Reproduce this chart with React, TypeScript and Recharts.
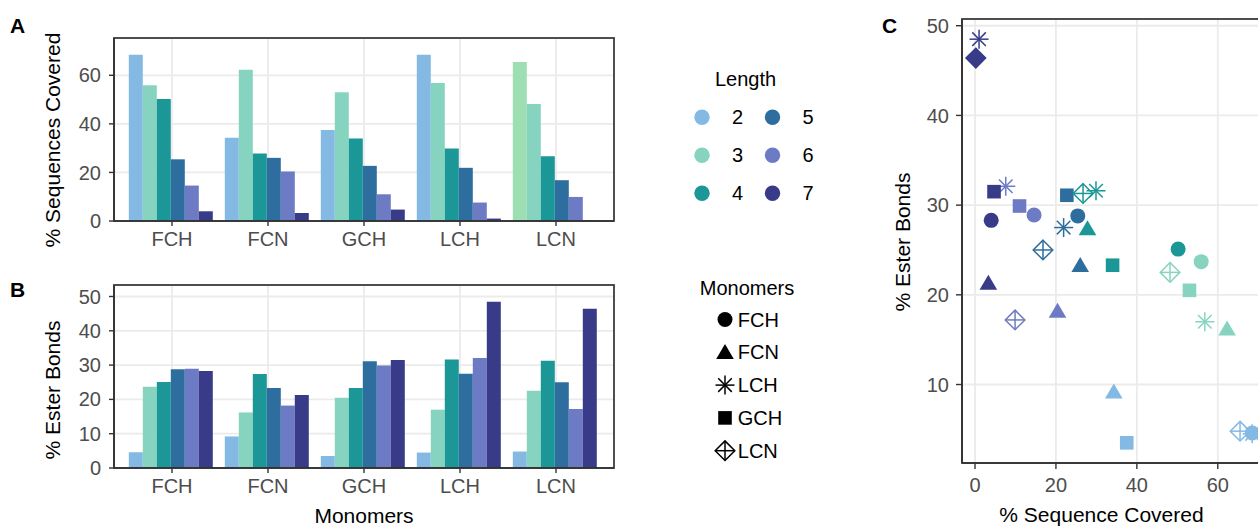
import React from 'react';
import { BarChart, Bar, XAxis, YAxis, CartesianGrid, Cell, ScatterChart, Scatter } from 'recharts';

const FONT = '"Liberation Sans", Arial, Helvetica, sans-serif';

// ---------- data ----------
const monomers = ['FCH', 'FCN', 'GCH', 'LCH', 'LCN'];
const lengths = [2, 3, 4, 5, 6, 7];
const lengthColors = ['#84b9e4', '#86d4c0', '#1b9797', '#2e6e9e', '#6d7bc4', '#383b88'];
const lcnLength2CoverageColor = '#9ddfb3';

// % sequences covered, per length, in monomer order
const coverage2 = [68.5, 34.3, 37.5, 68.5, 65.5];
const coverage3 = [55.9, 62.3, 53.0, 56.8, 48.2];
const coverage4 = [50.2, 27.8, 34.0, 29.9, 26.7];
const coverage5 = [25.4, 26.0, 22.7, 21.9, 16.8];
const coverage6 = [14.6, 20.4, 11.0, 7.6, 9.9];
const coverage7 = [4.0, 3.3, 4.7, 1.0, 0.2];

// % ester bonds, per length, in monomer order
const ester2 = [4.6, 9.2, 3.5, 4.5, 4.8];
const ester3 = [23.7, 16.2, 20.5, 17.0, 22.5];
const ester4 = [25.1, 27.4, 23.3, 31.6, 31.3];
const ester5 = [28.8, 23.3, 31.1, 27.5, 25.0];
const ester6 = [28.9, 18.2, 29.9, 32.1, 17.2];
const ester7 = [28.3, 21.3, 31.5, 48.5, 46.4];

const coverageTicks = [0, 20, 40, 60];
const coverageMinorTicks = [10, 30, 50, 70];
const esterTicks = [0, 10, 20, 30, 40, 50];
const esterMinorTicks = [5, 15, 25, 35, 45];
const scatterXTicks = [0, 20, 40, 60];
const scatterXMinorTicks = [10, 30, 50, 70];
const scatterYTicks = [10, 20, 30, 40, 50];
const scatterYMinorTicks = [5, 15, 25, 35, 45];

const legendMonomers = ['FCH', 'FCN', 'LCH', 'GCH', 'LCN'];
const monomerShapes: Record<string, string> = {
  FCH: 'circle',
  FCN: 'triangle',
  LCH: 'asterisk',
  GCH: 'square',
  LCN: 'diamondPlus',
};

const coverageByLength = [coverage2, coverage3, coverage4, coverage5, coverage6, coverage7];
const esterByLength = [ester2, ester3, ester4, ester5, ester6, ester7];

const buildRows = (byLength: number[][]) =>
  monomers.map((m, i) => {
    const row: any = { monomer: m };
    lengths.forEach((len, j) => {
      row['L' + len] = byLength[j][i];
    });
    return row;
  });

const coverageRows = buildRows(coverageByLength);
const esterRows = buildRows(esterByLength);

const allCoverage = coverageByLength.flat();
const allEster = esterByLength.flat();
const coverageMax = Math.max(...allCoverage) * 1.1;
const esterMax = Math.max(...allEster) * 1.1;

const expand = (vals: number[]): [number, number] => {
  const lo = Math.min(...vals);
  const hi = Math.max(...vals);
  const pad = (hi - lo) * 0.05;
  return [lo - pad, hi + pad];
};
const xDom = expand(allCoverage);
const yDom = expand(allEster);

const scatterSeries = legendMonomers.map((m) => {
  const i = monomers.indexOf(m);
  return {
    monomer: m,
    points: lengths.map((len, j) => ({ x: coverageByLength[j][i], y: esterByLength[j][i], len })),
  };
});

// ---------- layout & styles ----------
const GRID = '#ebebeb';
const AXIS = '#333333';
const TICK_TEXT = '#4d4d4d';
const axisLineStyle = { stroke: AXIS, strokeWidth: 1.7 };
const tickLineStyle = { stroke: AXIS, strokeWidth: 1.4 };
const tickStyle = { fill: TICK_TEXT, fontSize: 20, fontFamily: FONT };

const BAR_LEFT = 114;
const BAR_RIGHT = 614;
const A_TOP = 38;
const A_BOTTOM = 221;
const B_OFFSET = 260;
const B_TOP = 285;
const B_BOTTOM = 468;
const SC_DIV_LEFT = 880;
const SC_LEFT = 962;
const SC_TOP = 19;
const SC_BOTTOM = 463;
const SC_WIDTH = 304;

function Marker({ kind, cx, cy, color, solid }: any) {
  const sw = 1.5;
  if (kind === 'circle') return <circle cx={cx} cy={cy} r={7.5} fill={color} />;
  if (kind === 'triangle')
    return (
      <polygon
        points={`${cx},${cy - 8.3} ${cx + 8.8},${cy + 6.7} ${cx - 8.8},${cy + 6.7}`}
        fill={color}
      />
    );
  if (kind === 'square') return <rect x={cx - 6.8} y={cy - 6.8} width={13.6} height={13.6} fill={color} />;
  if (kind === 'asterisk') {
    const r = 9.5;
    const d = 6.8;
    return (
      <g stroke={color} strokeWidth={sw}>
        <line x1={cx - r} y1={cy} x2={cx + r} y2={cy} />
        <line x1={cx} y1={cy - r} x2={cx} y2={cy + r} />
        <line x1={cx - d} y1={cy - d} x2={cx + d} y2={cy + d} />
        <line x1={cx - d} y1={cy + d} x2={cx + d} y2={cy - d} />
      </g>
    );
  }
  const r = 9.8;
  return (
    <g stroke={color} strokeWidth={sw} fill={solid ? color : 'none'}>
      <polygon points={`${cx},${cy - r} ${cx + r},${cy} ${cx},${cy + r} ${cx - r},${cy}`} />
      <line x1={cx - r} y1={cy} x2={cx + r} y2={cy} />
      <line x1={cx} y1={cy - r} x2={cx} y2={cy + r} />
    </g>
  );
}

function BarPanel({ rows, max, ticks, minorTicks, top, height, plotTop, plotBottom, overrideLcn2 }: any) {
  const xAxisH = 30;
  const yAxisW = 60;
  return (
    <div style={{ position: 'absolute', left: 0, top }}>
      <BarChart
        width={640}
        height={height}
        data={rows}
        margin={{ top: plotTop, right: 640 - BAR_RIGHT, bottom: height - plotBottom - xAxisH, left: BAR_LEFT - yAxisW }}
        barCategoryGap="5%"
        barGap={0}
      >
        <CartesianGrid yAxisId="minor" vertical={false} stroke={GRID} strokeWidth={0.9} />
        <CartesianGrid stroke={GRID} strokeWidth={1.8} />
        <XAxis
          dataKey="monomer"
          interval={0}
          padding={{ left: 10, right: 10 }}
          height={xAxisH}
          tickSize={5}
          tickMargin={6}
          tick={tickStyle}
          axisLine={axisLineStyle}
          tickLine={tickLineStyle}
        />
        <YAxis
          domain={[0, max]}
          ticks={ticks}
          width={yAxisW}
          tickSize={5}
          tickMargin={8}
          tick={tickStyle}
          axisLine={axisLineStyle}
          tickLine={tickLineStyle}
        />
        <YAxis
          yAxisId="minor"
          domain={[0, max]}
          ticks={minorTicks}
          width={0}
          tick={false}
          tickLine={false}
          axisLine={false}
        />
        {lengths.map((len, j) => (
          <Bar key={len} dataKey={'L' + len} fill={lengthColors[j]} isAnimationActive={false}>
            {rows.map((row: any) => (
              <Cell
                key={row.monomer}
                fill={overrideLcn2 && j === 0 && row.monomer === 'LCN' ? lcnLength2CoverageColor : lengthColors[j]}
              />
            ))}
          </Bar>
        ))}
      </BarChart>
    </div>
  );
}

export default function App() {
  const textBase = { fontFamily: FONT } as any;
  const scHeight = 527;
  const scXAxisH = 40;
  const scYAxisW = 60;
  return (
    <div
      style={{
        position: 'fixed',
        left: 0,
        top: 0,
        width: 1258,
        height: 527,
        overflow: 'hidden',
        background: '#ffffff',
        fontFamily: FONT,
      }}
    >
      <BarPanel
        rows={coverageRows}
        max={coverageMax}
        ticks={coverageTicks}
        minorTicks={coverageMinorTicks}
        top={0}
        height={260}
        plotTop={A_TOP}
        plotBottom={A_BOTTOM}
        overrideLcn2
      />
      <BarPanel
        rows={esterRows}
        max={esterMax}
        ticks={esterTicks}
        minorTicks={esterMinorTicks}
        top={B_OFFSET}
        height={267}
        plotTop={B_TOP - B_OFFSET}
        plotBottom={B_BOTTOM - B_OFFSET}
      />

      <div style={{ position: 'absolute', left: SC_DIV_LEFT, top: 0 }}>
        <ScatterChart
          width={400}
          height={scHeight}
          margin={{
            top: SC_TOP,
            right: 400 - (SC_LEFT - SC_DIV_LEFT) - SC_WIDTH,
            bottom: scHeight - SC_BOTTOM - scXAxisH,
            left: SC_LEFT - SC_DIV_LEFT - scYAxisW,
          }}
        >
          <CartesianGrid xAxisId="minor" yAxisId="minor" stroke={GRID} strokeWidth={0.9} />
          <CartesianGrid stroke={GRID} strokeWidth={1.8} />
          <XAxis
            type="number"
            dataKey="x"
            domain={xDom}
            ticks={scatterXTicks}
            height={scXAxisH}
            tickSize={6}
            tickMargin={9}
            tick={tickStyle}
            axisLine={axisLineStyle}
            tickLine={tickLineStyle}
          />
          <XAxis
            xAxisId="minor"
            type="number"
            dataKey="x"
            domain={xDom}
            ticks={scatterXMinorTicks}
            height={0}
            tick={false}
            tickLine={false}
            axisLine={false}
          />
          <YAxis
            type="number"
            dataKey="y"
            domain={yDom}
            ticks={scatterYTicks}
            width={scYAxisW}
            tickSize={6}
            tickMargin={7}
            tick={tickStyle}
            axisLine={axisLineStyle}
            tickLine={tickLineStyle}
          />
          <YAxis
            yAxisId="minor"
            type="number"
            dataKey="y"
            domain={yDom}
            ticks={scatterYMinorTicks}
            width={0}
            tick={false}
            tickLine={false}
            axisLine={false}
          />
          {scatterSeries.map((s) => (
            <Scatter
              key={s.monomer}
              name={s.monomer}
              data={s.points}
              isAnimationActive={false}
              shape={(p: any) => (
                <Marker
                  kind={monomerShapes[s.monomer]}
                  cx={p.cx}
                  cy={p.cy}
                  color={lengthColors[lengths.indexOf(p.payload.len)]}
                  solid={s.monomer === 'LCN' && p.payload.len === 7}
                />
              )}
            />
          ))}
        </ScatterChart>
      </div>

      <svg
        width={1258}
        height={527}
        style={{ position: 'absolute', left: 0, top: 0, pointerEvents: 'none' }}
      >
        {/* panel borders */}
        <rect x={BAR_LEFT} y={A_TOP} width={BAR_RIGHT - BAR_LEFT} height={A_BOTTOM - A_TOP} fill="none" stroke={AXIS} strokeWidth={1.7} />
        <rect x={BAR_LEFT} y={B_TOP} width={BAR_RIGHT - BAR_LEFT} height={B_BOTTOM - B_TOP} fill="none" stroke={AXIS} strokeWidth={1.7} />
        <rect x={SC_LEFT} y={SC_TOP} width={SC_WIDTH} height={SC_BOTTOM - SC_TOP} fill="none" stroke={AXIS} strokeWidth={1.7} />

        {/* panel letters */}
        <text x={10} y={33} fontSize={21} fontWeight="bold" style={textBase}>A</text>
        <text x={10} y={297} fontSize={21} fontWeight="bold" style={textBase}>B</text>
        <text x={882} y={33} fontSize={21} fontWeight="bold" style={textBase}>C</text>

        {/* axis titles */}
        <text x={60} y={140} fontSize={21} textAnchor="middle" transform="rotate(-90 60 140)" style={textBase}>
          % Sequences Covered
        </text>
        <text x={60} y={390} fontSize={21} textAnchor="middle" transform="rotate(-90 60 390)" style={textBase}>
          % Ester Bonds
        </text>
        <text x={364} y={523} fontSize={21} textAnchor="middle" style={textBase}>Monomers</text>
        <text x={910} y={242} fontSize={21} textAnchor="middle" transform="rotate(-90 910 242)" style={textBase}>
          % Ester Bonds
        </text>
        <text x={1101.5} y={522} fontSize={21} textAnchor="middle" style={textBase}>% Sequence Covered</text>

        {/* Length legend */}
        <text x={745.5} y={86} fontSize={20} textAnchor="middle" style={textBase}>Length</text>
        {lengths.map((len, j) => {
          const col = Math.floor(j / 3);
          const row = j % 3;
          const cx = col === 0 ? 702 : 772.5;
          const cy = 117.2 + row * 38;
          return (
            <g key={len}>
              <circle cx={cx} cy={cy} r={7.7} fill={lengthColors[j]} />
              <text x={cx + 35.5} y={cy} dy="0.35em" fontSize={20} textAnchor="middle" style={textBase}>
                {len}
              </text>
            </g>
          );
        })}

        {/* Monomers legend */}
        <text x={747} y={294.5} fontSize={20} textAnchor="middle" style={textBase}>Monomers</text>
        {legendMonomers.map((m, i) => {
          const cy = 319.5 + i * 32.8;
          return (
            <g key={m}>
              <Marker kind={monomerShapes[m]} cx={725} cy={cy} color="#000000" />
              <text x={737.8} y={cy} dy="0.35em" fontSize={20} style={textBase}>
                {m}
              </text>
            </g>
          );
        })}
      </svg>
    </div>
  );
}
